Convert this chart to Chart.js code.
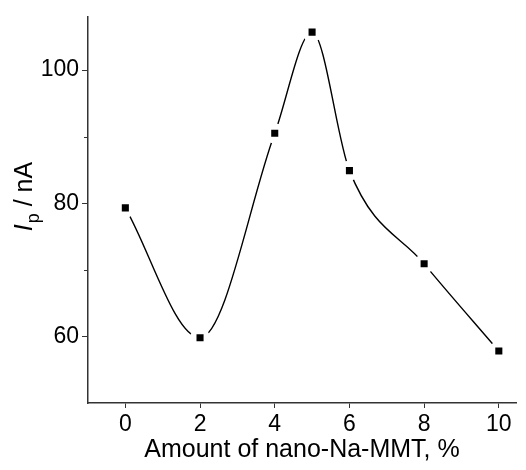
<!DOCTYPE html>
<html>
<head>
<meta charset="utf-8">
<script src="https://cdn.jsdelivr.net/npm/chart.js@4.4.0/dist/chart.umd.min.js"></script>
<style>
    html, body { margin: 0; padding: 0; background: #fff; }
    #wrap { width: 526px; height: 470px; }
</style>
</head>
<body>
<div id="wrap"><canvas id="chart"></canvas></div>
<script>
// amount of nano-Na-MMT (%) and peak current (nA)
const amounts = [0, 2, 4, 5, 6, 8, 10]
const peakCurrent = [79.3, 59.8, 90.5, 105.7, 84.9, 70.9, 57.8]
const xTicks = [0, 2, 4, 6, 8, 10]
const yTicks = [60, 80, 100]
const yMinorTicks = [70, 90]
const xTitle = "Amount of nano-Na-MMT, %"

const FONT = "'Liberation Sans', Arial, sans-serif"
const points = amounts.map((a, i) => ({x: a, y: peakCurrent[i]}))

// minor y ticks + the I_p / nA title (mixed italic / subscript)
const extras = {
    id: 'extras',
    afterDraw(chart) {
        const ctx = chart.ctx
        const y = chart.scales.y
        ctx.save()
        ctx.strokeStyle = '#333'
        ctx.lineWidth = 1
        yMinorTicks.forEach(v => {
            const py = Math.round(y.getPixelForValue(v)) + 0.5
            ctx.beginPath()
            ctx.moveTo(y.right - 4, py)
            ctx.lineTo(y.right, py)
            ctx.stroke()
        })
        ctx.restore()

        ctx.save()
        ctx.translate(32, 197)
        ctx.rotate(-Math.PI / 2)
        ctx.fillStyle = '#000'
        ctx.textBaseline = 'alphabetic'
        const fMain = "25px " + FONT
        const fItal = "italic 25px " + FONT
        const fSub = "18px " + FONT
        ctx.font = fItal; const wI = ctx.measureText("I").width
        ctx.font = fSub; const wP = ctx.measureText("p").width
        ctx.font = fMain; const wR = ctx.measureText(" / nA").width
        let x0 = -(wI + wP + wR) / 2
        ctx.font = fItal; ctx.fillText("I", x0, 0); x0 += wI + 1
        ctx.font = fSub; ctx.fillText("p", x0, 7); x0 += wP
        ctx.font = fMain; ctx.fillText(" / nA", x0, 0)
        ctx.restore()
    }
}

new Chart(document.getElementById("chart"), {
    type: 'scatter',
    data: {
        datasets: [
            {
                // smooth curve
                data: points,
                showLine: true,
                cubicInterpolationMode: 'monotone',
                borderColor: '#000',
                borderWidth: 1.4,
                pointRadius: 0,
                order: 3
            },
            {
                // white halo that cuts the curve around each symbol
                data: points,
                pointStyle: 'circle',
                pointRadius: 10,
                pointBackgroundColor: '#fff',
                backgroundColor: '#fff',
                pointBorderWidth: 0,
                borderWidth: 0,
                order: 2
            },
            {
                data: points,
                pointStyle: 'rect',
                pointRadius: 5,
                backgroundColor: '#000',
                borderColor: '#000',
                borderWidth: 0,
                order: 1
            }
        ]
    },
    options: {
        responsive: true,
        maintainAspectRatio: false,
        animation: false,
        layout: { padding: { top: 14, right: 0, left: 0, bottom: 0 } },
        plugins: { legend: { display: false }, tooltip: { enabled: false } },
        scales: {
            x: {
                type: 'linear',
                min: -1,
                max: 10.46,
                afterBuildTicks: s => { s.ticks = xTicks.map(v => ({value: v})) },
                afterFit: s => { s.height = 67 },
                border: { color: '#333', width: 1.5 },
                grid: { drawOnChartArea: false, drawTicks: true, tickLength: 5, tickColor: '#333', tickWidth: 1 },
                ticks: { color: '#000', font: { family: FONT, size: 23 }, padding: 3, maxRotation: 0 },
                title: { display: true, text: xTitle, color: '#000', font: { family: FONT, size: 25 }, padding: { top: 0, bottom: 5 } }
            },
            y: {
                type: 'linear',
                min: 50,
                max: 108,
                afterBuildTicks: s => { s.ticks = yTicks.map(v => ({value: v})) },
                afterFit: s => { s.width = 88 },
                border: { color: '#333', width: 1.5 },
                grid: { drawOnChartArea: false, drawTicks: true, tickLength: 6, tickColor: '#333', tickWidth: 1 },
                ticks: { color: '#000', font: { family: FONT, size: 23 }, padding: 3 }
            }
        }
    },
    plugins: [extras]
})
</script>
</body>
</html>
